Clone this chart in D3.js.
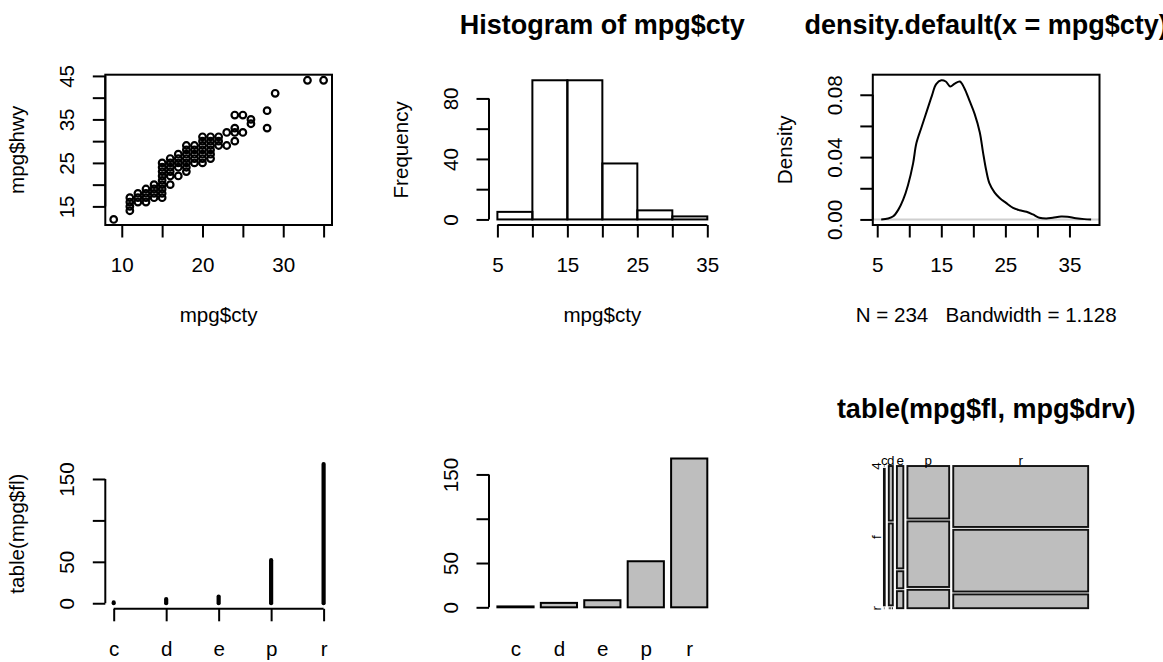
<!DOCTYPE html>
<html>
<head>
<meta charset="utf-8">
<script src="https://cdn.jsdelivr.net/npm/d3@7"></script>
<style>
  html, body { margin: 0; padding: 0; background: #fff; }
  svg text { font-family: "Liberation Sans", Arial, Helvetica, sans-serif; fill: #000; white-space: pre; }
</style>
</head>
<body>
<svg id="fig" width="1163" height="662"></svg>
<script>
// ---- data -------------------------------------------------------------
// distinct (cty, hwy) pairs of the mpg cars
const scatterCty = [9, 11,11,11,11, 12,12,12, 13,13,13,13, 14,14,14,14,
  15,15,15,15,15,15,15,15,15, 16,16,16,16,16,16, 17,17,17,17,17,
  18,18,18,18,18,18,18, 19,19,19,19,19, 20,20,20,20,20,20,20,
  21,21,21,21,21,21, 22,22,22, 23,23, 24,24,24,24, 25,25, 26,26, 28,28, 29, 33, 35];
const scatterHwy = [12, 14,15,16,17, 16,17,18, 16,17,18,19, 17,18,19,20,
  17,18,19,20,21,22,23,24,25, 20,22,23,24,25,26, 22,24,25,26,27,
  23,24,25,26,27,28,29, 25,26,27,28,29, 25,26,27,28,29,30,31,
  26,27,28,29,30,31, 29,30,31, 29,32, 30,32,33,36, 32,36, 34,35, 33,37, 41, 44, 44];

// histogram of cty
const histBreaks = [5, 10, 15, 20, 25, 30, 35];
const histCounts = [5, 92, 92, 37, 6, 2];

// kernel density of cty (N = 234, bandwidth = 1.128)
const densX = [5.62, 6.7, 7.5, 8.3, 9.05, 9.8, 10.6, 11.1, 11.9, 12.7, 13.5, 14.2, 15.0, 15.7,
  16.4, 17.1, 17.9, 18.6, 19.4, 20.2, 21.0, 21.5, 22.0, 22.5, 23.3, 24.1, 25.1, 26.2, 27.2,
  28.3, 29.3, 30.3, 31.4, 32.4, 33.7, 34.7, 36.0, 37.3, 38.38];
const densY = [0.0000, 0.0006, 0.0020, 0.0063, 0.0127, 0.0220, 0.0360, 0.0487, 0.0590, 0.0690,
  0.0790, 0.0868, 0.0893, 0.0885, 0.0853, 0.0872, 0.0885, 0.0842, 0.0762, 0.0677, 0.0560,
  0.0434, 0.0317, 0.0233, 0.0174, 0.0138, 0.0106, 0.0074, 0.0059, 0.0049, 0.0032, 0.0011,
  0.0006, 0.0011, 0.0019, 0.0017, 0.0008, 0.0002, 0.0000];
const densNote = "N = 234   Bandwidth = 1.128";

// fuel type table and fuel x drive table
const fuelTypes = ["c", "d", "e", "p", "r"];
const fuelCounts = [1, 5, 8, 52, 168];
const driveTypes = ["4", "f", "r"];
const fuelByDrive = [
  [0, 1, 0],
  [2, 3, 0],
  [6, 1, 1],
  [20, 25, 7],
  [75, 76, 17]
];

// tick positions and the labels printed at them
const scatterXTicks = [10, 15, 20, 25, 30, 35], scatterXLabels = ["10", "", "20", "", "30", ""];
const scatterYTicks = [15, 20, 25, 30, 35, 40, 45], scatterYLabels = ["15", "", "25", "", "35", "", "45"];
const histXTicks = [5, 10, 15, 20, 25, 30, 35], histXLabels = ["5", "", "15", "", "25", "", "35"];
const histYTicks = [0, 20, 40, 60, 80], histYLabels = ["0", "", "40", "", "80"];
const densXTicks = [5, 10, 15, 20, 25, 30, 35], densXLabels = ["5", "", "15", "", "25", "", "35"];
const densYTicks = [0, 0.02, 0.04, 0.06, 0.08], densYLabels = ["0.00", "", "0.04", "", "0.08"];
const countTicks = [0, 50, 100, 150], countLabels = ["0", "50", "", "150"];

// ---- layout -----------------------------------------------------------
const colLeft = [105.3, 489.0, 872.8];
const rowTop = [74.7, 458.5];
const PW = 226.7, PH = 150.3;
const LAB = 20.6, MAIN = 27.0, SMALL = 13.4;
const LW = 2, TICK = 12.5;
const GREY = "#bebebe";

const svg = d3.select("#fig");

function region(c, r) {
  const x0 = colLeft[c], y0 = rowTop[r];
  return { x0, y0, x1: x0 + PW, y1: y0 + PH, cx: x0 + PW / 2, cy: y0 + PH / 2 };
}
// 4% padding on both ends of a data range
function padded(lo, hi) { const d = (hi - lo) * 0.04; return [lo - d, hi + d]; }

function axis(side, scale, ticks, labels, at, showLine = true) {
  const gen = side === "bottom" ? d3.axisBottom(scale) : d3.axisLeft(scale);
  gen.tickValues(ticks).tickSizeOuter(0).tickSize(showLine ? TICK : 0)
     .tickFormat((d, i) => labels[i]);
  const g = svg.append("g")
    .attr("transform", side === "bottom" ? `translate(0,${at})` : `translate(${at},0)`)
    .call(gen)
    .attr("font-size", null).attr("font-family", null).attr("color", "#000");
  if (showLine) {
    const a = scale(ticks[0]), b = scale(ticks[ticks.length - 1]);
    g.select(".domain").attr("d", side === "bottom" ? `M${a},0H${b}` : `M0,${a}V${b}`)
      .attr("stroke-width", LW);
    g.selectAll(".tick line").attr("stroke-width", LW);
  } else {
    g.select(".domain").remove();
    g.selectAll(".tick line").remove();
  }
  const t = g.selectAll(".tick text").style("font-size", LAB + "px").attr("fill", "#000");
  if (side === "bottom") t.attr("y", 47).attr("dy", null);
  else t.attr("x", null).attr("dy", null).attr("text-anchor", "middle")
        .attr("transform", "translate(-31,0) rotate(-90)");
  return g;
}
function xlab(p, txt) {
  svg.append("text").attr("x", p.cx).attr("y", p.y1 + 97).attr("text-anchor", "middle")
    .attr("xml:space", "preserve")
    .style("font-size", LAB + "px").text(txt);
}
function ylab(p, txt) {
  svg.append("text").attr("text-anchor", "middle")
    .attr("transform", `translate(${p.x0 - 81},${p.cy}) rotate(-90)`)
    .style("font-size", LAB + "px").text(txt);
}
function mainTitle(p, txt) {
  svg.append("text").attr("x", p.cx).attr("y", p.y0 - 40.7).attr("text-anchor", "middle")
    .style("font-size", MAIN + "px").style("font-weight", "bold").text(txt);
}
function frame(p) {
  svg.append("rect").attr("x", p.x0).attr("y", p.y0).attr("width", PW).attr("height", PH)
    .attr("fill", "none").attr("stroke", "#000").attr("stroke-width", LW);
}

// ---- 1: hwy against cty ----------------------------------------------
{
  const p = region(0, 0);
  const x = d3.scaleLinear().domain(padded(d3.min(scatterCty), d3.max(scatterCty))).range([p.x0, p.x1]);
  const y = d3.scaleLinear().domain(padded(d3.min(scatterHwy), d3.max(scatterHwy))).range([p.y1, p.y0]);
  svg.append("g").selectAll("circle").data(scatterCty).join("circle")
    .attr("cx", d => x(d)).attr("cy", (d, i) => y(scatterHwy[i])).attr("r", 3.3)
    .attr("fill", "none").attr("stroke", "#000").attr("stroke-width", 2.2);
  axis("bottom", x, scatterXTicks, scatterXLabels, p.y1);
  axis("left", y, scatterYTicks, scatterYLabels, p.x0);
  frame(p);
  xlab(p, "mpg$cty");
  ylab(p, "mpg$hwy");
}

// ---- 2: histogram ------------------------------------------------------
{
  const p = region(1, 0);
  const x = d3.scaleLinear().domain(padded(histBreaks[0], histBreaks[histBreaks.length - 1])).range([p.x0, p.x1]);
  const y = d3.scaleLinear().domain(padded(0, d3.max(histCounts))).range([p.y1, p.y0]);
  svg.append("g").selectAll("rect").data(histCounts).join("rect")
    .attr("x", (d, i) => x(histBreaks[i])).attr("width", (d, i) => x(histBreaks[i + 1]) - x(histBreaks[i]))
    .attr("y", d => y(d)).attr("height", d => y(0) - y(d))
    .attr("fill", "none").attr("stroke", "#000").attr("stroke-width", LW);
  axis("bottom", x, histXTicks, histXLabels, p.y1);
  axis("left", y, histYTicks, histYLabels, p.x0);
  mainTitle(p, "Histogram of mpg$cty");
  xlab(p, "mpg$cty");
  ylab(p, "Frequency");
}

// ---- 3: density --------------------------------------------------------
{
  const p = region(2, 0);
  const x = d3.scaleLinear().domain(padded(d3.min(densX), d3.max(densX))).range([p.x0, p.x1]);
  const y = d3.scaleLinear().domain(padded(0, d3.max(densY))).range([p.y1, p.y0]);
  svg.append("line").attr("x1", p.x0).attr("x2", p.x1).attr("y1", y(0)).attr("y2", y(0))
    .attr("stroke", "#cfcfcf").attr("stroke-width", 2);
  const line = d3.line().x(d => x(d[0])).y(d => y(d[1])).curve(d3.curveCatmullRom.alpha(0.5));
  svg.append("path").attr("d", line(densX.map((v, i) => [v, densY[i]])))
    .attr("fill", "none").attr("stroke", "#000").attr("stroke-width", LW);
  axis("bottom", x, densXTicks, densXLabels, p.y1);
  axis("left", y, densYTicks, densYLabels, p.x0);
  frame(p);
  mainTitle(p, "density.default(x = mpg$cty)");
  xlab(p, densNote);
  ylab(p, "Density");
}

// ---- 4: fuel counts as spikes -----------------------------------------
{
  const p = region(0, 1);
  const xl = d3.scaleLinear().domain(padded(1, fuelTypes.length)).range([p.x0, p.x1]);
  const x = d3.scalePoint().domain(fuelTypes).range([xl(1), xl(fuelTypes.length)]);
  const y = d3.scaleLinear().domain(padded(0, d3.max(fuelCounts))).range([p.y1, p.y0]);
  svg.append("g").selectAll("line").data(fuelCounts).join("line")
    .attr("x1", (d, i) => x(fuelTypes[i])).attr("x2", (d, i) => x(fuelTypes[i]))
    .attr("y1", y(0)).attr("y2", d => y(d))
    .attr("stroke", "#000").attr("stroke-width", 4.2).attr("stroke-linecap", "round");
  axis("bottom", x, fuelTypes, fuelTypes, p.y1);
  axis("left", y, countTicks, countLabels, p.x0);
  ylab(p, "table(mpg$fl)");
}

// ---- 5: fuel counts as bars -------------------------------------------
{
  const p = region(1, 1);
  const xl = d3.scaleLinear().domain(padded(0.2, 6.0)).range([p.x0, p.x1]);
  const x = d3.scaleBand().domain(fuelTypes).range([xl(0), xl(6)])
    .paddingInner(1 / 6).paddingOuter(1 / 12).align(1);
  const top = d3.max(fuelCounts);
  const y = d3.scaleLinear().domain([-0.01 * top, top]).range([p.y1, p.y0]);
  svg.append("g").selectAll("rect").data(fuelCounts).join("rect")
    .attr("x", (d, i) => x(fuelTypes[i])).attr("width", x.bandwidth())
    .attr("y", d => y(d)).attr("height", d => y(0) - y(d))
    .attr("fill", GREY).attr("stroke", "#000").attr("stroke-width", LW);
  const xc = d3.scaleOrdinal().domain(fuelTypes).range(fuelTypes.map(f => x(f) + x.bandwidth() / 2));
  axis("bottom", xc, fuelTypes, fuelTypes, p.y1, false);
  axis("left", y, countTicks, countLabels, p.x0);
}

// ---- 6: mosaic of fuel by drive ---------------------------------------
{
  const p = region(2, 1);
  const mx = d3.scaleLinear().domain([1, 1000]).range([p.x0, p.x1]);
  const my = d3.scaleLinear().domain([1, 1000]).range([p.y1, p.y0]);
  const X1 = 50, X2 = 950, Y1 = 5, Y2 = 950;
  const gapX = 0.08, gapY = 0.04;          // share of the span left as gaps
  const total = d3.sum(fuelCounts);
  const whiteX = gapX * (X2 - X1) / (fuelTypes.length - 1);
  const colL = [], colR = [];
  fuelCounts.forEach((n, i) => {
    const l = i === 0 ? X1 : colR[i - 1] + whiteX;
    colL.push(l);
    colR.push(l + (1 - gapX) * n / total * (X2 - X1));
  });
  const g = svg.append("g");
  const whiteY = gapY * (Y2 - Y1) / (driveTypes.length - 1);
  fuelByDrive.forEach((row, i) => {
    const s = d3.sum(row);
    const yb = [], yt = [];
    row.forEach((n, j) => {
      const t = j === 0 ? Y2 : yb[j - 1] - whiteY;
      yt.push(t);
      yb.push(t - (1 - gapY) * n / s * (Y2 - Y1));
    });
    row.forEach((n, j) => {
      if (n > 0) {
        g.append("rect").attr("x", mx(colL[i])).attr("width", mx(colR[i]) - mx(colL[i]))
          .attr("y", my(yt[j])).attr("height", my(yb[j]) - my(yt[j]))
          .attr("fill", GREY).attr("stroke", "#111").attr("stroke-width", 1.9);
      } else {
        const w = colR[i] - colL[i];
        [0, 2, 4].forEach(k => {
          g.append("line").attr("x1", mx(colL[i] + w * k / 5)).attr("x2", mx(colL[i] + w * (k + 1) / 5))
            .attr("y1", my(yb[j])).attr("y2", my(yb[j]))
            .attr("stroke", "#000").attr("stroke-width", LW);
        });
      }
    });
    if (i === 0) {
      driveTypes.forEach((lab, j) => {
        g.append("text").attr("text-anchor", "middle").style("font-size", SMALL + "px")
          .attr("transform", `translate(${mx(15) + 0.36 * SMALL},${my((yb[j] + yt[j]) / 2)}) rotate(-90)`)
          .text(lab);
      });
    }
  });
  fuelTypes.forEach((lab, i) => {
    g.append("text").attr("x", mx((colL[i] + colR[i]) / 2)).attr("y", my(987) + 0.36 * SMALL)
      .attr("text-anchor", "middle").style("font-size", SMALL + "px").text(lab);
  });
  mainTitle(p, "table(mpg$fl, mpg$drv)");
}
</script>
</body>
</html>
